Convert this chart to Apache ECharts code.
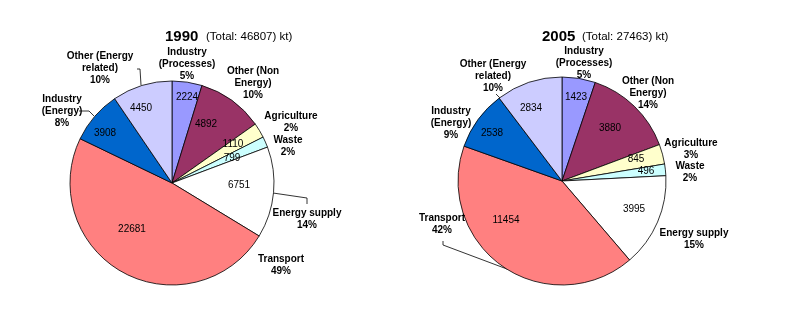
<!DOCTYPE html>
<html>
<head>
<meta charset="utf-8">
<script src="https://cdn.jsdelivr.net/npm/echarts@6/dist/echarts.min.js"></script>
<style>
  html, body { margin: 0; padding: 0; background: #fff; }
  #chart { width: 785px; height: 323px; }
</style>
</head>
<body>
<div id="chart"></div>
<script>
// Emission sources, drawn clockwise from 12 o'clock
var categories = [
  'Industry\n(Processes)',
  'Other (Non\nEnergy)',
  'Agriculture',
  'Waste',
  'Energy supply',
  'Transport',
  'Industry\n(Energy)',
  'Other (Energy\nrelated)'
];

// 1990 emissions, kt
var values1990 = [2224, 4892, 1110, 799, 6751, 22681, 3908, 4450];
var percent1990 = [5, 10, 2, 2, 14, 49, 8, 10];
var total1990 = 46807;

// 2005 emissions, kt
var values2005 = [1423, 3880, 845, 496, 3995, 11454, 2538, 2834];
var percent2005 = [5, 14, 3, 2, 15, 42, 9, 10];
var total2005 = 27463;

var years = ['1990', '2005'];

var sliceColors = ['#9999FF', '#993366', '#FFFFCC', '#CCFFFF', '#FFFFFF', '#FF8080', '#0066CC', '#CCCCFF'];
var FONT = 'Arial, "Liberation Sans", sans-serif';

// Pie geometry and label placement (offsets from the pie centre, px)
var pies = [
  {
    center: [172, 183], radius: 102,
    yearLeft: 165, totalLeft: 206,
    values: values1990, percents: percent1990, total: total1990, year: years[0],
    valueSpots: [[15, -86], [34, -59], [61, -39], [60, -25], [67, 2], [-40, 46], [-67, -50], [-31, -75]],
    nameSpots: [[15, -119], [81, -100], [119, -61], [116, -37], [135, 36], [109, 82], [-110, -72], [-72, -115]],
    leaders: {
      4: [[101, 10], [135, 15], [135, 21]],
      6: [[-78, -67], [-83, -72], [-93, -72]],
      7: [[-31, -98], [-32, -114], [-35, -114]]
    }
  },
  {
    center: [562, 181], radius: 104,
    yearLeft: 542, totalLeft: 582,
    values: values2005, percents: percent2005, total: total2005, year: years[1],
    valueSpots: [[14, -84], [48, -53], [74, -22], [84, -10], [72, 28], [-56, 39], [-70, -48], [-31, -73]],
    nameSpots: [[22, -118], [86, -88], [129, -32], [128, -9], [132, 58], [-120, 43], [-111, -58], [-69, -105]],
    leaders: {
      5: [[-119, 60], [-119, 64], [-55, 88]],
      7: [[-62, -83], [-64, -85], [-66, -87]]
    }
  }
];

var titles = [];
var series = [];

pies.forEach(function (p) {
  var cx = p.center[0], cy = p.center[1];

  titles.push({
    text: p.year, left: p.yearLeft, top: 29, padding: 0,
    textStyle: { fontFamily: FONT, fontSize: 15, fontWeight: 'bold', color: '#000' }
  });
  titles.push({
    text: '(Total: ' + p.total + ') kt)', left: p.totalLeft, top: 31, padding: 0,
    textStyle: { fontFamily: FONT, fontSize: 11.5, fontWeight: 'normal', color: '#000' }
  });

  // Slices with value labels
  series.push({
    type: 'pie',
    center: p.center,
    radius: p.radius,
    startAngle: 90,
    clockwise: true,
    avoidLabelOverlap: false,
    silent: true,
    animation: false,
    data: categories.map(function (c, i) {
      return { name: c, value: p.values[i], itemStyle: { color: sliceColors[i] } };
    }),
    itemStyle: { borderColor: '#000', borderWidth: 0.8 },
    label: {
      show: true, position: 'inside', formatter: '{c}',
      fontFamily: FONT, fontSize: 10, color: '#000'
    },
    labelLine: { show: false },
    labelLayout: function (params) {
      var o = p.valueSpots[params.dataIndex];
      return { x: cx + o[0], y: cy + o[1], align: 'center', verticalAlign: 'middle' };
    }
  });

  // Category names and shares around the pie
  series.push({
    type: 'pie',
    center: p.center,
    radius: p.radius,
    startAngle: 90,
    clockwise: true,
    avoidLabelOverlap: false,
    silent: true,
    animation: false,
    data: categories.map(function (c, i) {
      return {
        name: c, value: p.values[i],
        itemStyle: { color: 'rgba(0,0,0,0)', borderWidth: 0 },
        labelLine: { show: !!p.leaders[i] }
      };
    }),
    label: {
      show: true, position: 'outside',
      formatter: function (params) {
        return params.name + '\n' + p.percents[params.dataIndex] + '%';
      },
      fontFamily: FONT, fontSize: 10, fontWeight: 'bold', lineHeight: 12,
      color: '#000', align: 'center'
    },
    labelLine: { length: 6, length2: 6, lineStyle: { color: '#000', width: 0.8 } },
    labelLayout: function (params) {
      var i = params.dataIndex;
      var o = p.nameSpots[i];
      var res = { x: cx + o[0], y: cy + o[1], align: 'center', verticalAlign: 'middle' };
      if (p.leaders[i]) {
        res.labelLinePoints = p.leaders[i].map(function (pt) { return [cx + pt[0], cy + pt[1]]; });
      }
      return res;
    }
  });
});

var chart = echarts.init(document.getElementById('chart'), null, { renderer: 'canvas' });
chart.setOption({
  backgroundColor: '#fff',
  animation: false,
  title: titles,
  series: series
});
</script>
</body>
</html>
